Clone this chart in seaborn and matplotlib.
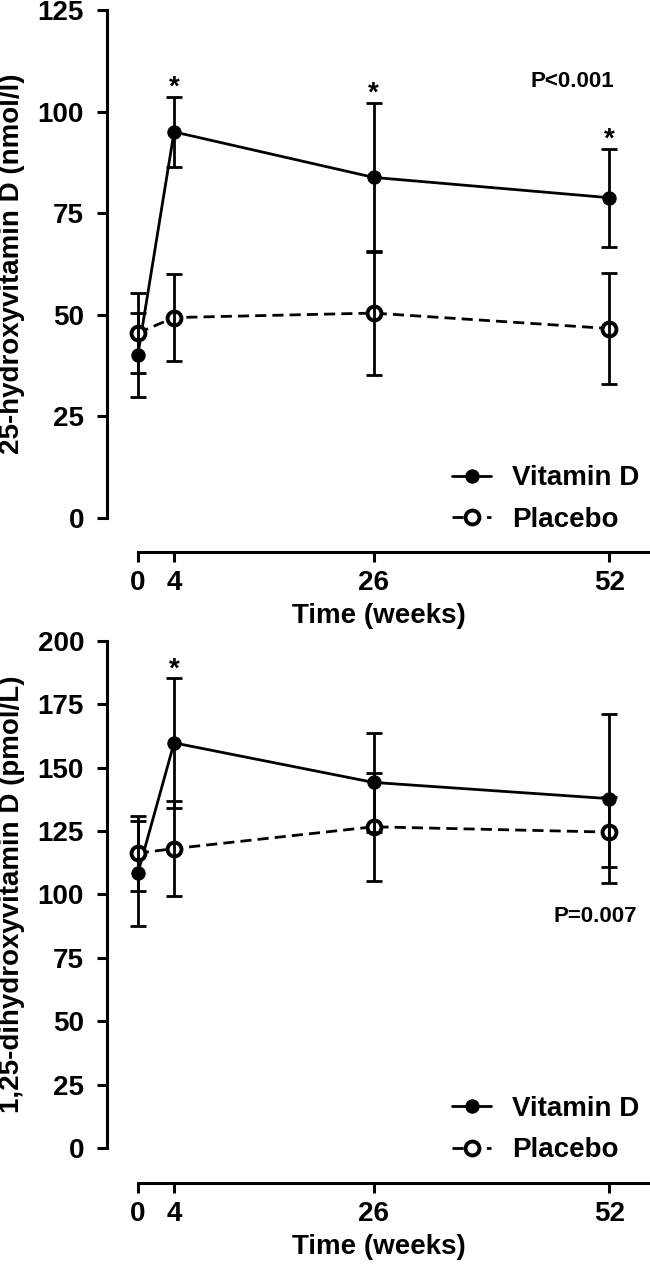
import numpy as np
import pandas as pd
import matplotlib
matplotlib.use("Agg")
import matplotlib.pyplot as plt
import seaborn as sns

# semaines de suivi
weeks = [0, 4, 26, 52]

# 25-hydroxyvitamine D (nmol/l) : moyenne et écart-type
ohd_vitd = [40.1, 95.0, 83.8, 78.8]
ohd_vitd_sd = [10.3, 8.7, 18.3, 12.1]
ohd_plac = [45.5, 49.3, 50.4, 46.6]
ohd_plac_sd = [9.8, 10.6, 15.2, 13.7]
ohd_stars = [4, 26, 52]

# 1,25-dihydroxyvitamine D (pmol/L)
dhd_vitd = [108.3, 159.8, 144.2, 137.8]
dhd_vitd_sd = [20.8, 25.7, 19.6, 33.4]
dhd_plac = [116.3, 118.1, 126.7, 124.6]
dhd_plac_sd = [14.8, 18.7, 21.3, 13.8]
dhd_stars = [4]

groupes = ["Vitamin D", "Placebo"]

sns.set_style("ticks")
plt.rcParams['font.family'] = ['Liberation Sans', 'DejaVu Sans']
plt.rcParams['font.weight'] = 'bold'
plt.rcParams['axes.labelweight'] = 'bold'
plt.rcParams['text.color'] = 'black'
plt.rcParams['axes.labelcolor'] = 'black'

XMAX = 56.5
LW = 2.0
FS = 20


def tracer_panneau(ax, vitd, vitd_sd, plac, plac_sd, stars, ymax, ymin, ylabel, ptext, pxy):
    """Trace un panneau : deux groupes, barres d'erreur, étoiles et valeur P."""
    df = pd.DataFrame({"Semaine": weeks * 2,
                       "Valeur": vitd + plac,
                       "Groupe": [groupes[0]] * 4 + [groupes[1]] * 4})

    d_vit = df[df["Groupe"] == "Vitamin D"]
    d_pla = df[df["Groupe"] == "Placebo"]

    sns.lineplot(data=d_vit, x="Semaine", y="Valeur", color="black", lw=LW,
                 marker="o", markersize=9.6, markerfacecolor="black",
                 markeredgecolor="black", label="Vitamin D", ax=ax, zorder=2)
    sns.lineplot(data=d_pla, x="Semaine", y="Valeur", color="black", lw=LW,
                 linestyle=(0, (4, 2.2)), marker="o", markersize=10,
                 markerfacecolor="white", markeredgecolor="black",
                 markeredgewidth=2.8, label="Placebo", ax=ax, zorder=2)

    for moy, sd in [(vitd, vitd_sd), (plac, plac_sd)]:
        ax.errorbar(weeks, moy, yerr=sd, fmt="none", ecolor="black",
                    elinewidth=LW, capsize=6, capthick=LW, zorder=3)

    # étoiles au-dessus des barres d'erreur (groupe vitamine D)
    for w in stars:
        i = weeks.index(w)
        ax.text(w, vitd[i] + vitd_sd[i] + 0.5, "*", ha="center", va="baseline",
                fontsize=FS, fontweight="bold")

    ax.text(pxy[0], pxy[1], ptext, transform=ax.transAxes, ha="center",
            va="center", fontsize=16, fontweight="bold")

    ax.set_xlim(-3.4, XMAX)
    ax.set_ylim(ymin, ymax)
    ax.set_xticks(weeks)
    ax.set_yticks(np.arange(0, ymax + 1, 25))
    ax.spines["top"].set_visible(False)
    ax.spines["right"].set_visible(False)
    ax.spines["left"].set_bounds(0, ymax)
    ax.spines["bottom"].set_bounds(0, XMAX)
    for s in ["left", "bottom"]:
        ax.spines[s].set_linewidth(2.2)
        ax.spines[s].set_color("black")
    ax.tick_params(direction="out", length=7, width=2.2, labelsize=FS,
                   colors="black")
    ax.tick_params(axis="y", pad=9.5)
    ax.tick_params(axis="x", pad=6)

    ax.set_xlabel("Time (weeks)", fontsize=FS, labelpad=5)
    ax.set_ylabel(ylabel, fontsize=FS)
    yc = (ymax / 2 - ymin) / (ymax - ymin)
    ax.yaxis.set_label_coords(-0.151, yc)

    ax.legend(loc="center right", bbox_to_anchor=(0.98, 0.098), frameon=False,
              borderpad=0, borderaxespad=0, handlelength=1.4,
              handletextpad=0.75, labelspacing=0.55,
              prop={"size": FS, "weight": "bold"})


fig = plt.figure(figsize=(6.5, 12.66), dpi=100)
ax1 = fig.add_axes([0.1646, 0.5640, 1 - 0.1646, 0.9921 - 0.5640])
ax2 = fig.add_axes([0.1646, 0.0656, 1 - 0.1646, 0.4937 - 0.0656])

tracer_panneau(ax1, ohd_vitd, ohd_vitd_sd, ohd_plac, ohd_plac_sd, ohd_stars,
               125, -8.4, "25-hydroxyvitamin D (nmol/l)", "P<0.001",
               (0.857, 0.869))
tracer_panneau(ax2, dhd_vitd, dhd_vitd_sd, dhd_plac, dhd_plac_sd, dhd_stars,
               200, -13.8, "1,25-dihydroxyvitamin D (pmol/L)", "P=0.007",
               (0.899, 0.491))

fig.savefig("out.png", dpi=100)
